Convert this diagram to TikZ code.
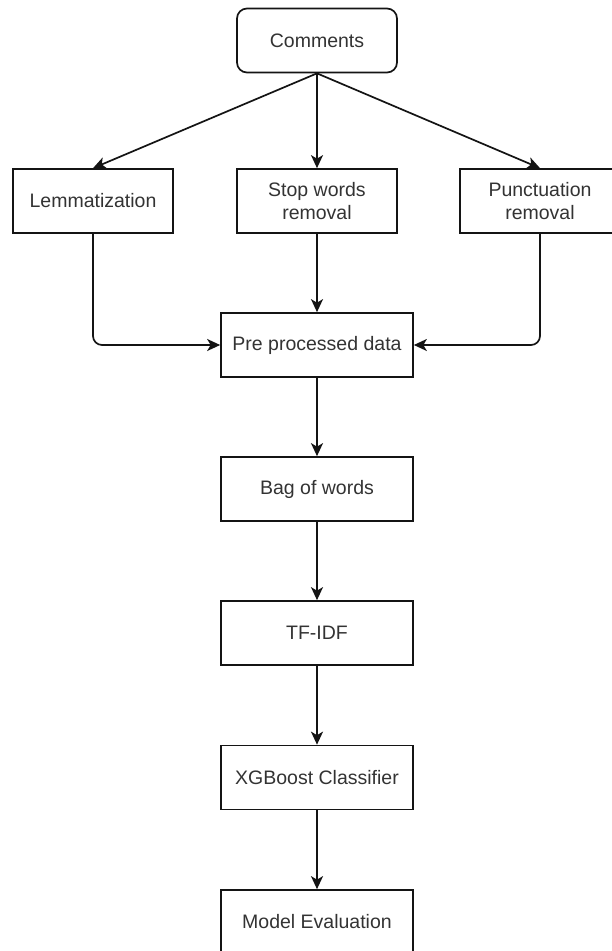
\documentclass[tikz,border=0pt]{standalone}
\usepackage{fontspec}
\setmainfont{Liberation Sans}
\usetikzlibrary{arrows.meta}
\definecolor{ink}{HTML}{141414}
\definecolor{txt}{HTML}{333333}
\tikzset{
  box/.style={draw=ink, line width=1.7pt, fill=white, minimum width=160pt,
    minimum height=64pt, inner sep=0pt, align=center, text=txt,
    font=\fontsize{19.5}{22.5}\selectfont},
  widebox/.style={box, minimum width=192pt},
  startbox/.style={box, rounded corners=10pt},
  flow/.style={draw=ink, line width=1.7pt,
    -{Stealth[length=13pt,width=12pt,inset=3.5pt]}},
  elbow/.style={flow, rounded corners=9pt}
}
\begin{document}
\begin{tikzpicture}[x=1pt,y=-1pt]
  \clip (0,0) rectangle (612,951);
  \fill[white] (0,0) rectangle (612,951);

  % input and the three cleaning steps
  \node[startbox] (c) at (317,40.5) {Comments};
  \node[box] (lem)   at (93,201)  {Lemmatization};
  \node[box] (stop)  at (317,201) {Stop words\\removal};
  \node[box] (punct) at (540,201) {Punctuation\\removal};

  % main pipeline
  \node[widebox] (pre)   at (317,345) {Pre processed data};
  \node[widebox] (bag)   at (317,489) {Bag of words};
  \node[widebox] (tfidf) at (317,633) {TF-IDF};
  \node[widebox] (xgb)   at (317,777.5) {XGBoost Classifier};
  \node[widebox] (model) at (317,922) {Model Evaluation};

  % connectors
  \draw[flow] (c.south) -- (lem.north);
  \draw[flow] (c.south) -- (stop.north);
  \draw[flow] (c.south) -- (punct.north);
  \draw[elbow] (lem.south) |- (pre.west);
  \draw[flow] (stop.south) -- (pre.north);
  \draw[elbow] (punct.south) |- (pre.east);
  \draw[flow] (pre.south) -- (bag.north);
  \draw[flow] (bag.south) -- (tfidf.north);
  \draw[flow] (tfidf.south) -- (xgb.north);
  \draw[flow] (xgb.south) -- (model.north);
\end{tikzpicture}
\end{document}
